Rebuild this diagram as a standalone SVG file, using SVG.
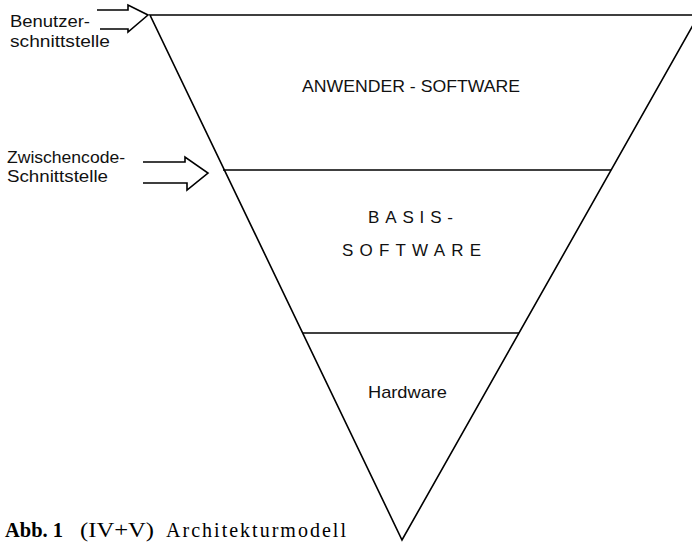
<svg xmlns="http://www.w3.org/2000/svg" width="692" height="542" viewBox="0 0 692 542">
  <style>
    .ln { fill: none; stroke: #000; stroke-width: 1.6; stroke-linejoin: miter; }
    .lbl { font-family: "Liberation Sans", "DejaVu Sans", sans-serif; font-size: 16px; fill: #111; }
    .lay { font-family: "Liberation Sans", "DejaVu Sans", sans-serif; font-size: 17px; fill: #111; }
    .cap { font-family: "Liberation Serif", "Times New Roman", serif; font-size: 20px; fill: #000; }
  </style>
  <rect width="692" height="542" fill="#fff"/>

  <!-- inverted pyramid with layer boundaries -->
  <g id="connectors">
    <polyline class="ln" points="692,15 150,15 402,540 705,4"/>
    <line class="ln" x1="223" y1="170" x2="611" y2="170"/>
    <line class="ln" x1="303" y1="333" x2="519" y2="333"/>
  </g>

  <g id="anwender">
    <text class="lay" x="302" y="92" textLength="218" lengthAdjust="spacingAndGlyphs">ANWENDER - SOFTWARE</text>
  </g>
  <g id="basis">
    <text class="lay" x="368" y="223" textLength="85" lengthAdjust="spacing">BASIS-</text>
    <text class="lay" x="342" y="256" textLength="139" lengthAdjust="spacing">SOFTWARE</text>
  </g>
  <g id="hardware">
    <text class="lay" x="368" y="398" textLength="79" lengthAdjust="spacingAndGlyphs">Hardware</text>
  </g>

  <!-- interface markers -->
  <g id="benutzer">
    <polyline class="ln" points="97,10 128,10 128,5 148,15 128,32 128,29 100,29"/>
    <text class="lbl" x="10" y="27" textLength="80" lengthAdjust="spacingAndGlyphs">Benutzer-</text>
    <text class="lbl" x="10" y="47" textLength="100" lengthAdjust="spacingAndGlyphs">schnittstelle</text>
  </g>
  <g id="zwischencode">
    <polyline class="ln" points="143,162 185,162 185,157 208,173 187,190 187,183 143,183"/>
    <text class="lbl" x="7" y="163" textLength="118" lengthAdjust="spacingAndGlyphs">Zwischencode-</text>
    <text class="lbl" x="7" y="182" textLength="101" lengthAdjust="spacingAndGlyphs">Schnittstelle</text>
  </g>

  <g id="caption">
    <text class="cap" y="537"><tspan x="5" font-weight="bold" textLength="58" lengthAdjust="spacingAndGlyphs">Abb. 1</tspan><tspan x="80" textLength="74" lengthAdjust="spacingAndGlyphs">(IV+V)</tspan><tspan x="166" textLength="180" lengthAdjust="spacing">Architekturmodell</tspan></text>
  </g>
</svg>
